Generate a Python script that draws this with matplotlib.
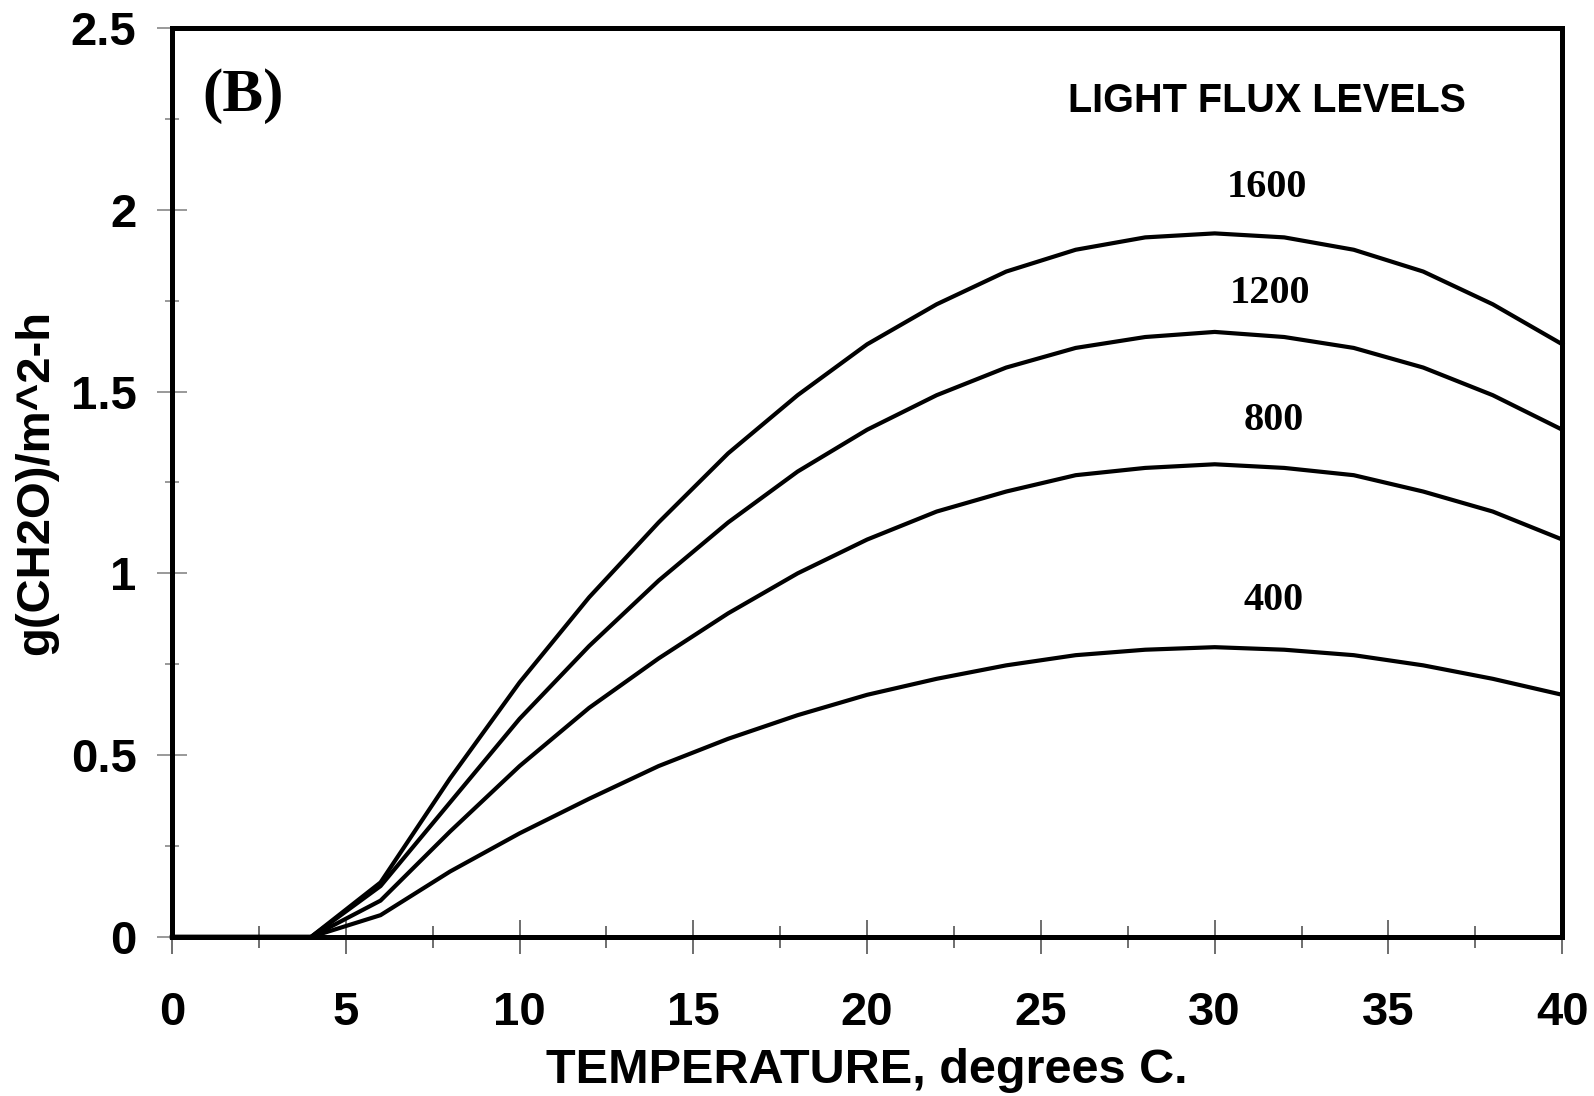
import numpy as np
import matplotlib.pyplot as plt
from matplotlib.ticker import MultipleLocator

# temperature, degrees C
temp = [0, 2, 4, 6, 8, 10, 12, 14, 16, 18, 20, 22, 24, 26, 28, 30, 32, 34, 36, 38, 40]

# g(CH2O)/m^2-h at each light flux level
flux_1600 = [0, 0, 0, 0.15, 0.436, 0.70, 0.934, 1.14, 1.33, 1.49, 1.63, 1.74, 1.83, 1.89, 1.924, 1.935,
             1.924, 1.89, 1.83, 1.74, 1.63]
flux_1200 = [0, 0, 0, 0.14, 0.37, 0.60, 0.80, 0.98, 1.14, 1.28, 1.395, 1.49, 1.566, 1.62, 1.65, 1.664,
             1.65, 1.62, 1.566, 1.49, 1.395]
flux_800 = [0, 0, 0, 0.10, 0.29, 0.47, 0.63, 0.766, 0.89, 1.0, 1.093, 1.17, 1.225, 1.27, 1.29, 1.30,
            1.29, 1.27, 1.225, 1.17, 1.093]
flux_400 = [0, 0, 0, 0.06, 0.18, 0.285, 0.38, 0.47, 0.545, 0.61, 0.666, 0.71, 0.747, 0.775, 0.79, 0.797,
            0.79, 0.775, 0.747, 0.71, 0.666]

levels = ['1600', '1200', '800', '400']
series = [flux_1600, flux_1200, flux_800, flux_400]
label_x = [31.5, 31.6, 31.7, 31.7]
label_y = [2.06, 1.77, 1.42, 0.925]

sans = 'Liberation Sans'
serif = 'Liberation Serif'

fig = plt.figure(figsize=(15.94, 10.96), dpi=100)
ax = fig.add_axes([0.1079, 0.1451, 0.8722, 0.8294])

for s in series:
    ax.plot(temp, s, color='black', lw=3.0, solid_joinstyle='miter', clip_on=False, zorder=3)

ax.set_xlim(0, 40)
ax.set_ylim(0, 2.5)

for sp in ax.spines.values():
    sp.set_linewidth(3.6)
    sp.set_zorder(4)

ax.xaxis.set_major_locator(MultipleLocator(5))
ax.xaxis.set_minor_locator(MultipleLocator(2.5))
ax.yaxis.set_major_locator(MultipleLocator(0.5))
ax.yaxis.set_minor_locator(MultipleLocator(0.25))
ax.set_xticklabels([], minor=True)
ax.set_yticklabels([], minor=True)

ax.tick_params(axis='x', which='major', direction='inout', length=24, width=1.2, color='#555555', pad=27)
ax.tick_params(axis='x', which='minor', direction='inout', length=16, width=1.2, color='#555555')
ax.tick_params(axis='y', which='major', direction='inout', length=21, width=1.2, color='#888888', pad=15)
ax.tick_params(axis='y', which='minor', direction='inout', length=10, width=1.2, color='#888888')

ax.set_xticks([0, 5, 10, 15, 20, 25, 30, 35, 40])
ax.set_xticklabels(['0', '5', '10', '15', '20', '25', '30', '35', '40'],
                   fontfamily=sans, fontweight='bold', fontsize=34)
ax.set_yticks([0, 0.5, 1, 1.5, 2, 2.5])
ax.set_yticklabels(['0', '0.5', '1', '1.5', '2', '2.5'],
                   fontfamily=sans, fontweight='bold', fontsize=34)

ax.set_xlabel('TEMPERATURE, degrees C.', fontfamily=sans, fontweight='bold', fontsize=35, labelpad=9)
ax.set_ylabel('g(CH2O)/m^2-h', fontfamily=sans, fontweight='bold', fontsize=34, labelpad=9)

ax.text(0.022, 0.925, '(B)', transform=ax.transAxes, fontfamily=serif, fontweight='bold',
        fontsize=44, ha='left', va='center')
ax.text(31.5, 2.30, 'LIGHT FLUX LEVELS', fontfamily=sans, fontweight='bold', fontsize=28.5,
        ha='center', va='center')
for lab, xx, yy in zip(levels, label_x, label_y):
    ax.text(xx, yy, lab, fontfamily=serif, fontweight='bold', fontsize=29, ha='center', va='center')

fig.savefig('out.png', dpi=100)
